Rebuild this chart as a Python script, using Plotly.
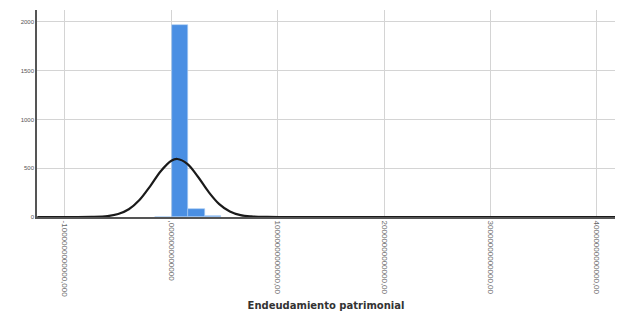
import plotly.graph_objects as go

# Histogram bins (x in axis units, tick spacing = 1)
bin_centers = [-0.08, 0.08, 0.235, 0.39]
bin_counts = [3, 1965, 82, 8]
bin_width = 0.155

# Normal curve points
curve_x = [-1.26, -1.0, -0.75, -0.6, -0.5, -0.4, -0.3, -0.2, -0.1, 0.0, 0.056, 0.15, 0.25, 0.35,
           0.45, 0.55, 0.65, 0.75, 0.9, 1.1, 4.17]
curve_y = [0, 0, 1, 9, 30, 79, 174, 315, 470, 577, 595, 546, 413, 257,
           132, 56, 19, 6, 1, 0, 0]

tick_vals = [-1, 0, 1, 2, 3, 4]
tick_text = ["-1000000000000,000", ",0000000000000", "10000000000000,00",
             "20000000000000,00", "30000000000000,00", "40000000000000,00"]
y_ticks = [0, 500, 1000, 1500, 2000]

fig = go.Figure()
fig.add_trace(go.Bar(x=bin_centers, y=bin_counts, width=bin_width,
                     marker=dict(color="#4a8fe3", line=dict(color="#a9cdf5", width=0.6)),
                     showlegend=False))
fig.add_trace(go.Scatter(x=curve_x, y=curve_y, mode="lines", line=dict(color="#1a1a1a", width=2.2, shape="spline"),
                         showlegend=False))

fig.update_layout(
    width=615, height=305,
    margin=dict(l=29, r=8, t=2, b=96),
    paper_bgcolor="white", plot_bgcolor="white",
    font=dict(family="Liberation Sans, Arial, sans-serif", color="#444"),
    bargap=0,
    xaxis=dict(range=[-1.263, 4.17], tickvals=tick_vals, ticktext=tick_text, tickangle=90,
               automargin=False,
               tickfont=dict(size=8, color="#666"), showgrid=True, gridcolor="#d4d4d4", gridwidth=1,
               zeroline=False, showline=True, linecolor="#555", linewidth=2,
               title=dict(text="<b>Endeudamiento patrimonial</b>",
                          font=dict(family="DejaVu Sans, sans-serif", size=10, color="#333"), standoff=6)),
    yaxis=dict(range=[0, 2123], tickvals=y_ticks, tickfont=dict(size=6, color="#555"),
               automargin=False,
               showgrid=True, gridcolor="#d4d4d4", zeroline=False, showline=True, linecolor="#555",
               linewidth=1.5, ticks=""),
)
fig.write_html("out.html")
